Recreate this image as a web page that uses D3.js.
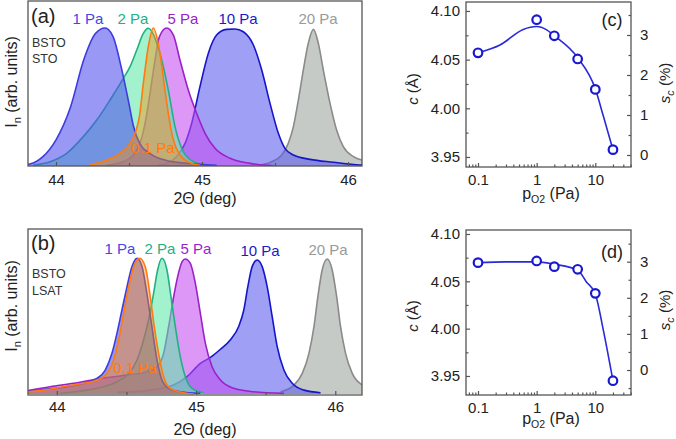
<!DOCTYPE html>
<html><head><meta charset="utf-8">
<script src="https://cdn.jsdelivr.net/npm/d3@7"></script>
<style>body{margin:0;background:#fff}svg{display:block;font-family:"Liberation Sans",Arial,sans-serif}</style>
</head><body><svg id="fig" width="676" height="439"></svg>
<script>
// ---------------- DATA ----------------
const degTicks = [44, 45, 46];
const degMinor = [44.5, 45.5];
const seriesNames = ["20 Pa", "10 Pa", "5 Pa", "2 Pa", "1 Pa", "0.1 Pa"];

// panel (a) BSTO / STO : [2Theta (deg), normalized intensity]
const aP20 = [[45.397,0.007],[45.477,0.031],[45.546,0.08],[45.591,0.164],[45.626,0.285],[45.66,0.478],[45.694,0.696],[45.728,0.889],[45.763,0.99],[45.797,0.889],[45.831,0.696],[45.877,0.454],[45.922,0.261],[45.968,0.14],[46.037,0.068],[46.094,0.043],[46.12,0.038]];
const aP10 = [[44.70,0.008],[44.758,0.019],[44.826,0.068],[44.884,0.164],[44.929,0.309],[44.986,0.575],[45.043,0.816],[45.1,0.949],[45.169,0.99],[45.226,0.993],[45.283,0.973],[45.352,0.877],[45.409,0.696],[45.466,0.454],[45.523,0.237],[45.568,0.128],[45.626,0.08],[45.74,0.048],[45.9,0.027],[46.08,0.007],[46.12,0.005]];
const aP5 = [[44.347,0.005],[44.461,0.031],[44.53,0.08],[44.575,0.164],[44.61,0.309],[44.644,0.527],[44.678,0.768],[44.708,0.937],[44.758,1.0],[44.804,0.949],[44.849,0.768],[44.906,0.551],[44.963,0.382],[45.021,0.237],[45.089,0.128],[45.192,0.056],[45.329,0.019],[45.489,0.002]];
const aP2 = [[43.845,0.007],[43.959,0.031],[44.073,0.092],[44.187,0.213],[44.279,0.333],[44.37,0.478],[44.461,0.635],[44.507,0.72],[44.553,0.841],[44.598,0.961],[44.632,0.998],[44.712,0.816],[44.769,0.551],[44.815,0.285],[44.861,0.128],[44.941,0.031],[45.032,0.005]];
const aP1 = [[43.80,0.01],[43.82,0.014],[43.91,0.068],[44.0,0.19],[44.1,0.43],[44.19,0.77],[44.27,0.96],[44.336,1.0],[44.39,0.94],[44.45,0.70],[44.5,0.45],[44.53,0.29],[44.575,0.16],[44.644,0.09],[44.758,0.04],[44.895,0.02],[45.1,0.005]];
const aP01 = [[44.233,0.007],[44.347,0.043],[44.438,0.092],[44.507,0.164],[44.541,0.237],[44.571,0.357],[44.598,0.599],[44.632,0.865],[44.667,1.0],[44.708,0.841],[44.74,0.599],[44.769,0.382],[44.804,0.188],[44.849,0.08],[44.918,0.024],[44.986,0.005]];

// panel (b) BSTO / LSAT
const bP20 = [[45.607,0.017],[45.703,0.066],[45.763,0.152],[45.811,0.30],[45.847,0.496],[45.875,0.717],[45.906,0.914],[45.942,0.995],[45.978,0.914],[46.01,0.717],[46.038,0.496],[46.074,0.30],[46.122,0.152],[46.194,0.066],[46.22,0.05]];
const bP10 = [[44.432,0.012],[44.671,0.029],[44.839,0.066],[44.935,0.128],[45.031,0.226],[45.103,0.27],[45.175,0.33],[45.247,0.40],[45.307,0.50],[45.343,0.619],[45.372,0.791],[45.403,0.939],[45.439,0.988],[45.475,0.939],[45.511,0.791],[45.547,0.57],[45.583,0.349],[45.631,0.177],[45.691,0.079],[45.775,0.029],[45.894,0.01]];
const bP5 = [[43.79,0.025],[43.952,0.054],[44.12,0.079],[44.312,0.115],[44.504,0.14],[44.647,0.165],[44.719,0.201],[44.767,0.30],[44.803,0.496],[44.835,0.693],[44.868,0.865],[44.9,0.975],[44.923,0.995],[44.959,0.963],[44.995,0.816],[45.031,0.595],[45.067,0.373],[45.115,0.201],[45.175,0.103],[45.271,0.042],[45.415,0.017],[45.631,0.005]];
const bP2 = [[44.024,0.005],[44.192,0.025],[44.336,0.054],[44.432,0.091],[44.516,0.152],[44.576,0.251],[44.623,0.398],[44.664,0.57],[44.695,0.742],[44.724,0.914],[44.755,1.0],[44.791,0.914],[44.82,0.717],[44.851,0.496],[44.887,0.275],[44.923,0.128],[44.971,0.042],[45.055,0.01]];
const bP1 = [[43.796,0.017],[43.88,0.03],[44.072,0.054],[44.192,0.079],[44.288,0.115],[44.348,0.177],[44.396,0.30],[44.432,0.447],[44.468,0.62],[44.504,0.79],[44.54,0.94],[44.576,1.0],[44.612,0.94],[44.647,0.742],[44.683,0.496],[44.72,0.25],[44.755,0.103],[44.803,0.042],[44.887,0.017],[45.031,0.005]];
const bP01 = [[43.79,0.015],[43.904,0.029],[44.072,0.059],[44.192,0.079],[44.288,0.103],[44.36,0.152],[44.408,0.251],[44.444,0.398],[44.48,0.595],[44.516,0.791],[44.552,0.939],[44.595,1.0],[44.635,0.939],[44.671,0.717],[44.7,0.496],[44.731,0.3],[44.767,0.128],[44.815,0.042],[44.911,0.01],[44.983,0]];

// panels (c),(d): lattice parameter c vs oxygen pressure
const pressure = [0.1, 1, 2, 5, 10, 20];
const cSTO  = [4.057, 4.091, 4.0745, 4.0507, 4.0194, 3.9575];
const cLSAT = [4.0697, 4.0715, 4.0655, 4.0627, 4.0373, 3.945];
const fitSTO_p = [0.1, 0.237, 0.59, 1.0, 1.48, 2, 5, 10, 13.7, 20];
const fitSTO_c = [4.057, 4.065, 4.081, 4.084, 4.0806, 4.0745, 4.052, 4.020, 3.992, 3.9575];
const fitLSAT_p = [0.1, 0.3, 1, 2, 5, 7, 10, 13.7, 20];
const fitLSAT_c = [4.0697, 4.0705, 4.0705, 4.068, 4.062, 4.0496, 4.0366, 3.9985, 3.945];
const cTicks = [3.95, 4.00, 4.05, 4.10];
const cMinor = [3.975, 4.025, 4.075];
const sTicks = [0, 1, 2, 3];
const sMinor = [-0.5, 0.5, 1.5, 2.5, 3.5];
const pTicks = [0.1, 1, 10];
const pMinor = [0.07,0.08,0.09,0.2,0.3,0.4,0.5,0.6,0.7,0.8,0.9,2,3,4,5,6,7,8,9,20,30,40];

// ---------------- STYLE ----------------
const style = {
  "20 Pa":  {fill:"#9ca39c", line:"#8a8a8a", text:"#9a9a9a", op:0.58},
  "10 Pa":  {fill:"#5a5aee", line:"#1616c8", text:"#1a1ac8", op:0.58},
  "5 Pa":   {fill:"#c44cf0", line:"#9a22c8", text:"#9a22c8", op:0.58},
  "2 Pa":   {fill:"#5ee8aa", line:"#22b084", text:"#22b084", op:0.58},
  "1 Pa":   {fill:"#5050ee", line:"#3c3ce0", text:"#4646e6", op:0.58},
  "0.1 Pa": {fill:"#ff8a00", line:"#ff7a10", text:"#ff7a10", op:0.42}
};
const frameCol = "#555";
const svg = d3.select("#fig");

function subText(t, parts){
  parts.forEach(p=>{
    const ts = t.append("tspan").text(p[0]);
    if(p[1]) Object.entries(p[1]).forEach(([k,v])=>ts.attr(k,v));
  });
}

function xrdPanel(cfg){
  const g = svg.append("g");
  const x = d3.scaleLinear().domain(cfg.xd).range([cfg.x0, cfg.x1]);
  const y = d3.scaleLinear().domain(cfg.yd).range([cfg.y1, cfg.y0]);
  const id = "clip" + cfg.key;
  svg.append("clipPath").attr("id", id).append("rect")
    .attr("x", cfg.x0).attr("y", cfg.y0).attr("width", cfg.x1-cfg.x0).attr("height", cfg.y1-cfg.y0);
  const pg = g.append("g").attr("clip-path", `url(#${id})`);
  const area = d3.area().x(d=>x(d[0])).y0(y(0)).y1(d=>y(d[1])).curve(d3.curveMonotoneX);
  const line = d3.line().x(d=>x(d[0])).y(d=>y(d[1])).curve(d3.curveMonotoneX);
  cfg.series.forEach((s,i)=>{
    const st = style[seriesNames[i]];
    pg.append("path").attr("d", area(s)).attr("fill", st.fill).attr("fill-opacity", st.op);
    pg.append("path").attr("d", line(s)).attr("fill","none").attr("stroke", st.line).attr("stroke-width", 1.6);
  });
  const ax = g.append("g").attr("transform", `translate(0,${cfg.y1})`)
    .call(d3.axisBottom(x).tickValues(degTicks).tickFormat(d3.format("d")).tickSizeInner(-4).tickSizeOuter(0));
  ax.select(".domain").remove();
  ax.selectAll("line").attr("stroke", frameCol).attr("stroke-width",1.2);
  ax.selectAll("text").attr("dy", null).attr("y", cfg.tickBase - cfg.y1).attr("font-size", 15).attr("fill","#222");
  const axm = g.append("g").attr("transform", `translate(0,${cfg.y1})`)
    .call(d3.axisBottom(x).tickValues(degMinor).tickFormat("").tickSizeInner(-3).tickSizeOuter(0));
  axm.select(".domain").remove();
  axm.selectAll("line").attr("stroke", frameCol).attr("stroke-width",1.2);
  g.append("rect").attr("x", cfg.x0).attr("y", cfg.y0).attr("width", cfg.x1-cfg.x0).attr("height", cfg.y1-cfg.y0)
    .attr("fill","none").attr("stroke", frameCol).attr("stroke-width", 1.3);
  g.append("text").attr("x", 205).attr("y", cfg.xlabBase).attr("text-anchor","middle").attr("font-size",16).attr("fill","#222").text("2Θ (deg)");
  const yl = g.append("text").attr("transform", `translate(17,${cfg.ylabC}) rotate(-90)`).attr("text-anchor","middle").attr("font-size",16).attr("fill","#222");
  subText(yl, [["I"],["n",{"font-size":11,"dy":4}],[" (arb. units)",{"dy":-4}]]);
  g.append("text").attr("x", 31).attr("y", cfg.y0+cfg.tagDy).attr("font-size",20).attr("fill","#222").text(cfg.tag);
  cfg.sub.forEach((t,i)=>g.append("text").attr("x",32).attr("y",cfg.subBase[i]).attr("font-size",12.5).attr("fill","#333").text(t));
  cfg.labels.forEach(l=>{
    g.append("text").attr("x", l[1]).attr("y", l[2]).attr("text-anchor","middle").attr("font-size",15)
      .attr("fill", style[l[0]].text).text(l[0]);
  });
}

xrdPanel({key:"a", tag:"(a)", x0:28, x1:362, y0:1, y1:166, xd:[43.808,46.096], yd:[0,1.196],
  series:[aP20,aP10,aP5,aP2,aP1,aP01], tickBase:185, xlabBase:204, ylabC:82, tagDy:22,
  sub:["BSTO","STO"], subBase:[47,63],
  labels:[["1 Pa",88,24],["2 Pa",133,24],["5 Pa",183,24],["10 Pa",238,24],["20 Pa",318,24],["0.1 Pa",153,153]]});
xrdPanel({key:"b", tag:"(b)", x0:28, x1:362, y0:229, y1:395, xd:[43.793,46.192], yd:[-0.007,1.216],
  series:[bP20,bP10,bP5,bP2,bP1,bP01], tickBase:412, xlabBase:435, ylabC:306, tagDy:21,
  sub:["BSTO","LSAT"], subBase:[278,295],
  labels:[["1 Pa",120,254],["2 Pa",160,254],["5 Pa",196,254],["10 Pa",260,256],["20 Pa",328,255],["0.1 Pa",135,373]]});

function latPanel(cfg){
  const g = svg.append("g");
  const x = d3.scaleLog().domain([0.0624, 40.6]).range([466, 631]);
  const y = d3.scaleLinear().domain(cfg.cd).range([cfg.y1, cfg.y0]);
  const ys = d3.scaleLinear().domain(cfg.sd).range([cfg.y1, cfg.y0]);
  const styleAx = (sel)=>{ sel.select(".domain").remove(); sel.selectAll("line").attr("stroke",frameCol).attr("stroke-width",1.2);
    sel.selectAll("text").attr("font-size",15).attr("fill","#222"); };
  const bx = g.append("g").attr("transform",`translate(0,${cfg.y1})`)
    .call(d3.axisBottom(x).tickValues(pTicks).tickFormat(d=>d===0.1?"0.1":d3.format("d")(d)).tickSizeInner(-4).tickSizeOuter(0));
  styleAx(bx); bx.selectAll("text").attr("dy",null).attr("y", cfg.tickBase - cfg.y1);
  const bxm = g.append("g").attr("transform",`translate(0,${cfg.y1})`)
    .call(d3.axisBottom(x).tickValues(pMinor).tickFormat("").tickSizeInner(-2.5).tickSizeOuter(0));
  styleAx(bxm);
  const ly = g.append("g").attr("transform","translate(466,0)")
    .call(d3.axisLeft(y).tickValues(cTicks).tickFormat(d3.format(".2f")).tickSizeInner(-4).tickSizeOuter(0).tickPadding(6));
  styleAx(ly);
  const lym = g.append("g").attr("transform","translate(466,0)")
    .call(d3.axisLeft(y).tickValues(cMinor).tickFormat("").tickSizeInner(-2.5).tickSizeOuter(0));
  styleAx(lym);
  const ry = g.append("g").attr("transform","translate(631,0)")
    .call(d3.axisRight(ys).tickValues(sTicks).tickFormat(d3.format("d")).tickSizeInner(-4).tickSizeOuter(0).tickPadding(9));
  styleAx(ry);
  const rym = g.append("g").attr("transform","translate(631,0)")
    .call(d3.axisRight(ys).tickValues(sMinor.filter(v=>v>cfg.sd[0]&&v<cfg.sd[1])).tickFormat("").tickSizeInner(-2.5).tickSizeOuter(0));
  styleAx(rym);
  g.append("rect").attr("x",466).attr("y",cfg.y0).attr("width",165).attr("height",cfg.y1-cfg.y0)
    .attr("fill","none").attr("stroke",frameCol).attr("stroke-width",1.3);
  const fit = cfg.fp.map((p,i)=>[p, cfg.fc[i]]);
  g.append("path").attr("d", d3.line().x(d=>x(d[0])).y(d=>y(d[1])).curve(d3.curveMonotoneX)(fit))
    .attr("fill","none").attr("stroke","#2a2ad8").attr("stroke-width",1.6);
  g.selectAll(null).data(pressure.map((p,i)=>[p, cfg.c[i]])).enter().append("circle")
    .attr("cx", d=>x(d[0])).attr("cy", d=>y(d[1])).attr("r", 4.3)
    .attr("fill","#fff").attr("stroke","#1818d0").attr("stroke-width",2.2);
  g.append("text").attr("x", 612).attr("y", cfg.y0+cfg.tagDy).attr("text-anchor","middle").attr("font-size",18).attr("fill","#222").text(cfg.tag);
  const xl = g.append("text").attr("x",551).attr("y",cfg.xlabBase).attr("text-anchor","middle").attr("font-size",16).attr("fill","#222");
  subText(xl, [["p"],["O2",{"font-size":10.5,"dy":4}],[" (Pa)",{"dy":-4}]]);
  const yl = g.append("text").attr("transform",`translate(418,${cfg.ylC}) rotate(-90)`).attr("text-anchor","middle").attr("font-size",15).attr("fill","#222");
  subText(yl, [["c",{"font-style":"italic"}],[" (Å)"]]);
  const yr = g.append("text").attr("transform",`translate(670,${cfg.yrC}) rotate(-90)`).attr("text-anchor","middle").attr("font-size",15).attr("fill","#222");
  subText(yr, [["s",{"font-style":"italic"}],["c",{"font-style":"italic","font-size":11,"dy":4}],[" (%)",{"dy":-4}]]);
}

latPanel({tag:"(c)", y0:2, y1:167, cd:[3.9397,4.1092], sd:[-0.3,3.825], c:cSTO, fp:fitSTO_p, fc:fitSTO_c,
  tickBase:185, xlabBase:199, ylC:89, yrC:83, tagDy:24});
latPanel({tag:"(d)", y0:230, y1:395, cd:[3.9299,4.1042], sd:[-0.692,3.878], c:cLSAT, fp:fitLSAT_p, fc:fitLSAT_c,
  tickBase:413, xlabBase:424, ylC:316, yrC:310, tagDy:28});
</script></body></html>
